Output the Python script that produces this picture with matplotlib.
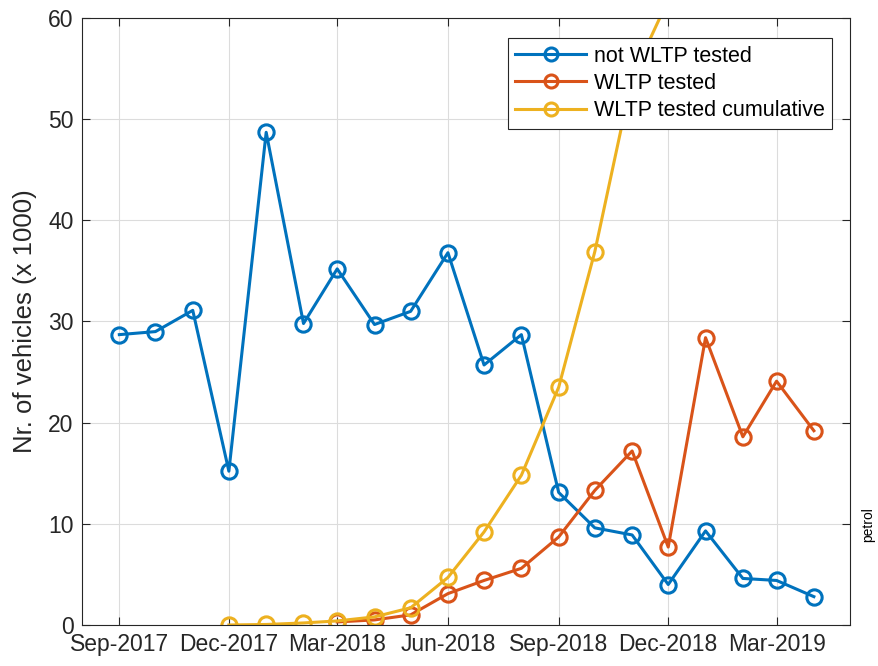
import numpy as np
import matplotlib.pyplot as plt
import matplotlib.dates as mdates
from datetime import date

plt.rcParams['font.family'] = ['Liberation Sans', 'DejaVu Sans']

months = [date(2017 + (8 + i) // 12, (8 + i) % 12 + 1, 1) for i in range(20)]  # Sep-2017 .. Apr-2019

not_wltp = [28.7, 29.0, 31.1, 15.2, 48.7, 29.8, 35.2, 29.7, 31.0, 36.8,
            25.7, 28.7, 13.1, 9.6, 8.9, 4.0, 9.3, 4.6, 4.4, 2.8]

# WLTP tested, from Mar-2018
wltp = [0.3, 0.5, 1.0, 3.1, 4.4, 5.6, 8.7, 13.3, 17.2, 7.7, 28.4, 18.6, 24.1, 19.2]

# cumulative, from Dec-2017 (values above 60 are off the chart)
wltp_cum = [0.0, 0.05, 0.2, 0.4, 0.8, 1.7, 4.7, 9.2, 14.8, 23.5, 36.9,
            54.1, 61.8, 90.2, 108.8, 132.9, 152.1]

ticks = [date(2017, 9, 1), date(2017, 12, 1), date(2018, 3, 1), date(2018, 6, 1),
         date(2018, 9, 1), date(2018, 12, 1), date(2019, 3, 1)]

fig = plt.figure(figsize=(8.79, 6.66), dpi=100)
ax = fig.add_axes([0.0933, 0.0616, 0.8737, 0.9114])

style = dict(marker='o', markerfacecolor='none', markersize=11,
             markeredgewidth=2.2, linewidth=2.2)
ax.plot(months, not_wltp, color='#0072BD', label='not WLTP tested', **style)
ax.plot(months[6:], wltp, color='#D95319', label='WLTP tested', **style)
ax.plot(months[3:], wltp_cum, color='#EDB120', label='WLTP tested cumulative', **style)

ax.set_xlim(date(2017, 8, 1), date(2019, 5, 1))
ax.set_ylim(0, 60)
ax.set_xticks(ticks)
ax.xaxis.set_major_formatter(mdates.DateFormatter('%b-%Y'))
ax.set_yticks(range(0, 61, 10))
ax.grid(color='#dcdcdc', linewidth=0.8)
ax.set_axisbelow(True)
ax.tick_params(direction='in', length=6, top=True, right=True, labelsize=16.5,
               color='#262626', labelcolor='#262626', pad=6)
for s in ax.spines.values():
    s.set_color('#262626')
    s.set_linewidth(0.8)
ax.set_ylabel('Nr. of vehicles (x 1000)', fontsize=18.5, color='#262626', labelpad=8)

leg = ax.legend(loc='upper right', bbox_to_anchor=(0.9766, 0.967), borderaxespad=0,
                fontsize=15.5, fancybox=False, framealpha=1, edgecolor='#262626',
                handlelength=3.3, borderpad=0.35, labelspacing=0.3,
                handletextpad=0.35, markerscale=0.85)
leg.get_frame().set_linewidth(0.8)

fig.text(0.988, 0.213, 'petrol', rotation=90, fontsize=10, ha='center', va='center')

fig.savefig('out.png', dpi=100)
